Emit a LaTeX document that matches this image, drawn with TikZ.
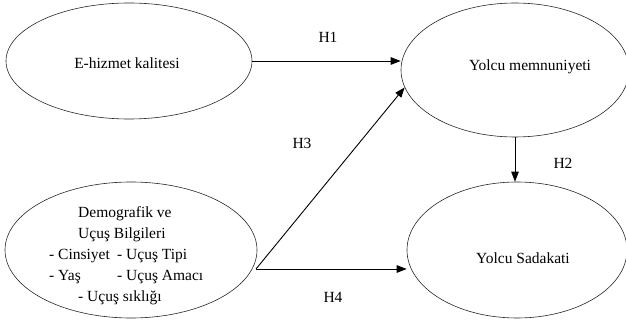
\documentclass[tikz,border=0pt]{standalone}
\usepackage{fontspec}
\setmainfont{Liberation Serif}
\usepackage{tikz}
\usetikzlibrary{arrows.meta,positioning,calc,shapes.geometric}

\tikzset{
  construct/.style={ellipse,draw=black!85,line width=0.6pt,inner sep=0pt},
  path/.style={line width=0.9pt,-{Triangle[length=10pt,width=7.5pt]}},
  hyp/.style={font=\fontsize{15.5}{18}\selectfont}
}

\begin{document}
\begin{tikzpicture}[x=1pt,y=-1pt,font=\fontsize{15.5}{21}\selectfont]
\useasboundingbox (0,0) rectangle (626,320);

% Constructs
\node[construct,minimum width=246pt,minimum height=116pt] (ehiz) at (129,61) {};
\node (ehiztext) at (127,63) {E-hizmet kalitesi};

\node[construct,minimum width=228pt,minimum height=134pt] (memn) at (515,70) {};
\node (memntext) at (530,67) {Yolcu memnuniyeti};

\node[construct,minimum width=220pt,minimum height=136pt] (sadak) at (517,250) {};
\node (sadaktext) at (523,258) {Yolcu Sadakati};

\node[construct,minimum width=252pt,minimum height=136pt] (demo) at (131,250) {};
\node[align=left,anchor=west,inner sep=0pt] (demotext) at (49,256)
  {\hspace*{29pt}Demografik ve\\
   \hspace*{29pt}Uçuş Bilgileri\\
   \makebox[68pt][l]{- Cinsiyet}- Uçuş Tipi\\
   \makebox[68pt][l]{- Yaş}- Uçuş Amacı\\
   \hspace*{29pt}- Uçuş sıklığı};

% Hypothesised paths
\coordinate (split) at (256,269);
\draw[path] (ehiz.east) -- (ehiz.east -| memn.west);
\draw[path] (memn.south) -- (memn.south |- sadak.north);
\draw[path] (split) -- (memn.189);
\draw[path] (split) -- (split -| sadak.west);

% Labels
\node[hyp] (h1) at (328,37) {H1};
\node[hyp] (h2) at (563,163) {H2};
\node[hyp] (h3) at (302,143) {H3};
\node[hyp] (h4) at (333,297) {H4};
\end{tikzpicture}
\end{document}
